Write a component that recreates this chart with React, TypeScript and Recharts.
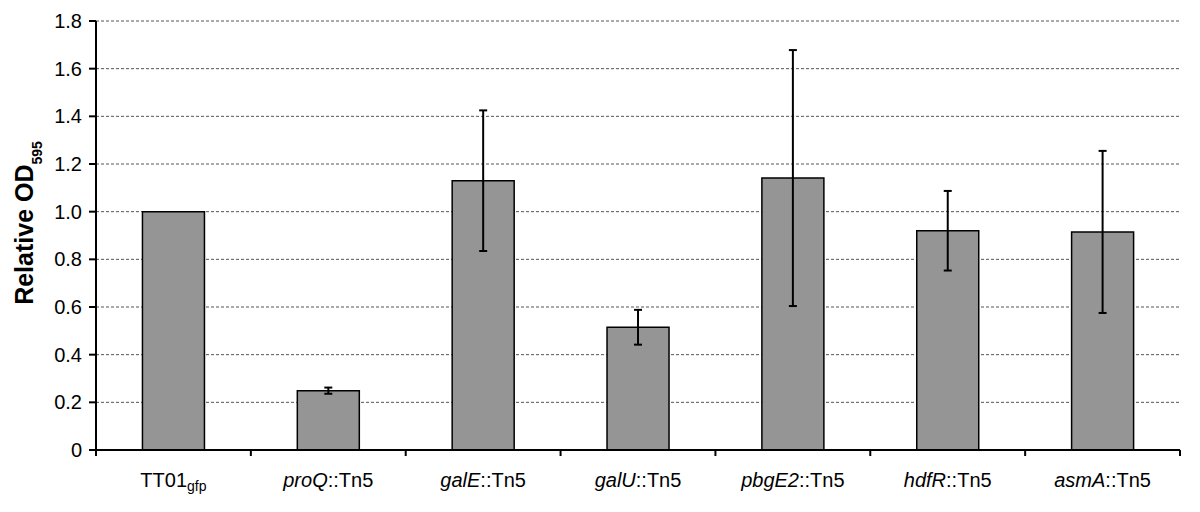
import React from "react";
import { BarChart, Bar, XAxis, YAxis, CartesianGrid, ErrorBar } from "recharts";

const strains = ["TT01gfp", "proQ::Tn5", "galE::Tn5", "galU::Tn5", "pbgE2::Tn5", "hdfR::Tn5", "asmA::Tn5"];
const relativeOD = [1.0, 0.249, 1.13, 0.515, 1.141, 0.92, 0.915];
const odError = [0, 0.013, 0.295, 0.073, 0.537, 0.167, 0.34];
const yTicks = [0, 0.2, 0.4, 0.6, 0.8, 1.0, 1.2, 1.4, 1.6, 1.8];

const data = strains.map((name, i) => ({ name, od: relativeOD[i], err: odError[i] }));

const W = 1200;
const H = 512;
const LEFT = 96;
const RIGHT = 20;
const band = (W - LEFT - RIGHT) / strains.length;
const font = "'Liberation Sans', Arial, sans-serif";

function StrainTick(props: any) {
  const { x, y, payload, index } = props;
  const name: string = payload.value;
  let label;
  if (name.includes("::")) {
    const [gene, rest] = name.split("::");
    label = (
      <>
        <tspan fontStyle="italic">{gene}</tspan>
        <tspan>{"::" + rest}</tspan>
      </>
    );
  } else {
    label = (
      <>
        <tspan>TT01</tspan>
        <tspan fontSize={14} dy={4}>gfp</tspan>
      </>
    );
  }
  return (
    <g>
      <line x1={x - band / 2} x2={x - band / 2} y1={y} y2={y + 6} stroke="#000" strokeWidth={2} />
      {index === strains.length - 1 && (
        <line x1={x + band / 2} x2={x + band / 2} y1={y} y2={y + 6} stroke="#000" strokeWidth={2} />
      )}
      <text x={x} y={y + 37} textAnchor="middle" fontSize={20} fontFamily={font} fill="#000">
        {label}
      </text>
    </g>
  );
}

function YLabel() {
  return (
    <text x={33} y={223} transform="rotate(-90 33 223)" textAnchor="middle" fontFamily={font} fontWeight="bold" fontSize={25} fill="#000">
      <tspan>Relative OD</tspan>
      <tspan fontSize={14} dy={9}>595</tspan>
    </text>
  );
}

export default function App() {
  return (
    <div style={{ position: "absolute", left: 0, top: 0, background: "#fff" }}>
      <BarChart width={W} height={H} data={data} margin={{ top: 21, right: RIGHT, left: 0, bottom: 0 }} barCategoryGap="30%">
        <CartesianGrid vertical={false} stroke="#555" strokeDasharray="3 2" strokeWidth={1} />
        <XAxis
          dataKey="name"
          height={62}
          axisLine={{ stroke: "#000", strokeWidth: 2 }}
          tickLine={false}
          tickSize={0}
          tickMargin={0}
          interval={0}
          tick={<StrainTick />}
        />
        <YAxis
          width={LEFT}
          domain={[0, 1.8]}
          ticks={yTicks}
          interval={0}
          axisLine={{ stroke: "#000", strokeWidth: 2 }}
          tickLine={{ stroke: "#000", strokeWidth: 2 }}
          tickSize={7}
          tickMargin={7}
          tickFormatter={(v: number) => (v === 0 ? "0" : v.toFixed(1))}
          tick={{ fill: "#000", fontSize: 20, fontFamily: font }}
          label={<YLabel />}
        />
        <Bar dataKey="od" fill="#959595" stroke="#000" strokeWidth={1.5} isAnimationActive={false}>
          <ErrorBar dataKey="err" width={4} stroke="#000" strokeWidth={2} direction="y" />
        </Bar>
      </BarChart>
    </div>
  );
}
